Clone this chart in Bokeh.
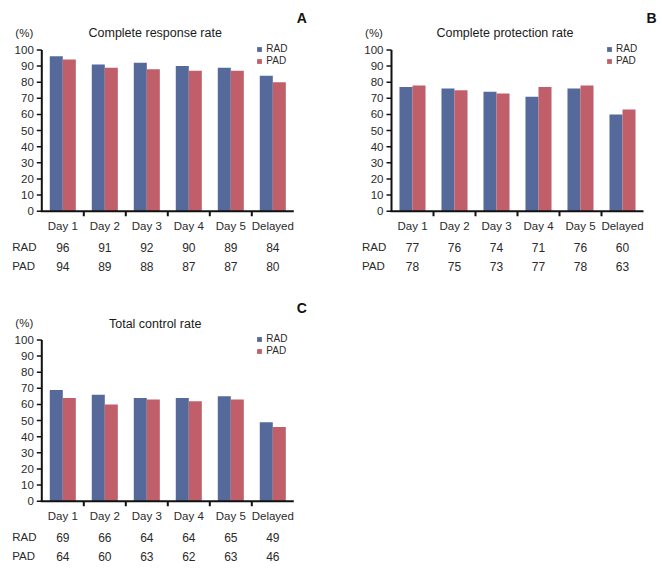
import numpy as np
from bokeh.plotting import figure
from bokeh.layouts import gridplot
from bokeh.models import ColumnDataSource, Range1d
from bokeh.core.properties import value
from bokeh.transform import dodge
from bokeh.embed import file_html
from bokeh.resources import INLINE

categories = ["Day 1", "Day 2", "Day 3", "Day 4", "Day 5", "Delayed"]
series_names = ["RAD", "PAD"]

cr_rad = [96, 91, 92, 90, 89, 84]
cr_pad = [94, 89, 88, 87, 87, 80]

cp_rad = [77, 76, 74, 71, 76, 60]
cp_pad = [78, 75, 73, 77, 78, 63]

tc_rad = [69, 66, 64, 64, 65, 49]
tc_pad = [64, 60, 63, 62, 63, 46]

y_ticks = list(range(0, 101, 10))

BLUE = "#55699a"
RED = "#c05f6a"
TXT = "#2a2a2a"
AX = "#111111"
FONT = value("Liberation Sans")

PX_PER_CAT = 42.0
PX_PER_UNIT = 1.613


def panel(title, letter, rad, pad, W, H, axis_x, zero_y, title_dy):
    n = len(categories)
    centers = np.arange(n) + 0.5
    bounds = np.arange(1, n)
    ymax = max(y_ticks)

    p = figure(width=W, height=H, output_backend="svg", toolbar_location=None,
               x_range=Range1d(-axis_x / PX_PER_CAT, (W - axis_x) / PX_PER_CAT),
               y_range=Range1d(-(H - zero_y) / PX_PER_UNIT, zero_y / PX_PER_UNIT),
               min_border=0, x_axis_type=None, y_axis_type=None)
    p.outline_line_color = None
    p.grid.visible = False
    p.background_fill_color = "white"
    p.border_fill_color = "white"

    src = ColumnDataSource(dict(x=centers, cat=categories, rad=rad, pad=pad,
                                rad_s=[str(v) for v in rad], pad_s=[str(v) for v in pad]))

    p.vbar(x=dodge("x", -0.155, range=p.x_range), top="rad", width=0.31, source=src,
           fill_color=BLUE, line_color=None, legend_label=series_names[0])
    p.vbar(x=dodge("x", 0.155, range=p.x_range), top="pad", width=0.31, source=src,
           fill_color=RED, line_color=None, legend_label=series_names[1])

    # y axis: line, ticks, labels
    p.segment(x0=[0], y0=[0], x1=[0], y1=[ymax], line_color=AX, line_width=2)
    p.segment(x0=[0] * len(y_ticks), y0=y_ticks, x1=[-5 / PX_PER_CAT] * len(y_ticks), y1=y_ticks,
              line_color=AX, line_width=1.5)
    p.text(x=[0] * len(y_ticks), y=y_ticks, text=[str(t) for t in y_ticks], x_offset=-8,
           text_font=FONT, text_font_size="11.5px", text_color=TXT,
           text_align="right", text_baseline="middle")

    # x axis: line, ticks between categories, labels
    p.segment(x0=[-1 / PX_PER_CAT], y0=[0], x1=[n], y1=[0], line_color=AX, line_width=2)
    p.segment(x0=bounds, y0=[0] * len(bounds), x1=bounds, y1=[-5 / PX_PER_UNIT] * len(bounds),
              line_color=AX, line_width=2)
    p.text(x="x", y=0, text="cat", source=src, y_offset=14.5,
           text_font=FONT, text_font_size="11.5px", text_color=TXT,
           text_align="center", text_baseline="middle")

    # table below the axis
    p.text(x="x", y=0, text="rad_s", source=src, y_offset=36,
           text_font=FONT, text_font_size="12px", text_color=TXT,
           text_align="center", text_baseline="middle")
    p.text(x="x", y=0, text="pad_s", source=src, y_offset=55,
           text_font=FONT, text_font_size="12px", text_color=TXT,
           text_align="center", text_baseline="middle")
    p.text(x=[0, 0], y=[0, 0], text=series_names, x_offset=-29.5, y_offset=[36, 55],
           text_font=FONT, text_font_size="11.5px", text_color=TXT,
           text_align="left", text_baseline="middle")

    # unit, title, panel letter
    p.text(x=[0], y=[ymax], text=["(%)"], x_offset=-17.5, y_offset=-17,
           text_font=FONT, text_font_size="11.5px", text_color=TXT,
           text_align="center", text_baseline="middle")
    p.text(x=[n / 2 - 0.3], y=[ymax], text=[title], y_offset=title_dy,
           text_font=FONT, text_font_size="12.5px", text_color="#1a1a1a",
           text_align="center", text_baseline="middle")
    p.text(x=[n], y=[ymax], text=[letter], x_offset=8, y_offset=-32,
           text_font=FONT, text_font_size="14px", text_font_style="bold", text_color="#111111",
           text_align="center", text_baseline="middle")

    lg = p.legend[0]
    lg.location = (axis_x + 215, H - (zero_y - 144))
    lg.border_line_color = None
    lg.background_fill_alpha = 0
    lg.glyph_width = 6
    lg.glyph_height = 6
    lg.label_height = 12
    lg.label_standoff = 4
    lg.spacing = 0
    lg.padding = 0
    lg.margin = 0
    lg.label_text_font = "Liberation Sans"
    lg.label_text_font_size = "10px"
    lg.label_text_color = TXT
    return p


pA = panel("Complete response rate", "A", cr_rad, cr_pad, 331, 280, 41.3, 210.7, -17)
pB = panel("Complete protection rate", "B", cp_rad, cp_pad, 331, 280, 60.0, 210.7, -17)
pC = panel("Total control rate", "C", tc_rad, tc_pad, 331, 290, 41.3, 220.7, -15.5)

grid = gridplot([[pA, pB], [pC, None]], toolbar_location=None)
open("out.html", "w").write(file_html(grid, INLINE))
